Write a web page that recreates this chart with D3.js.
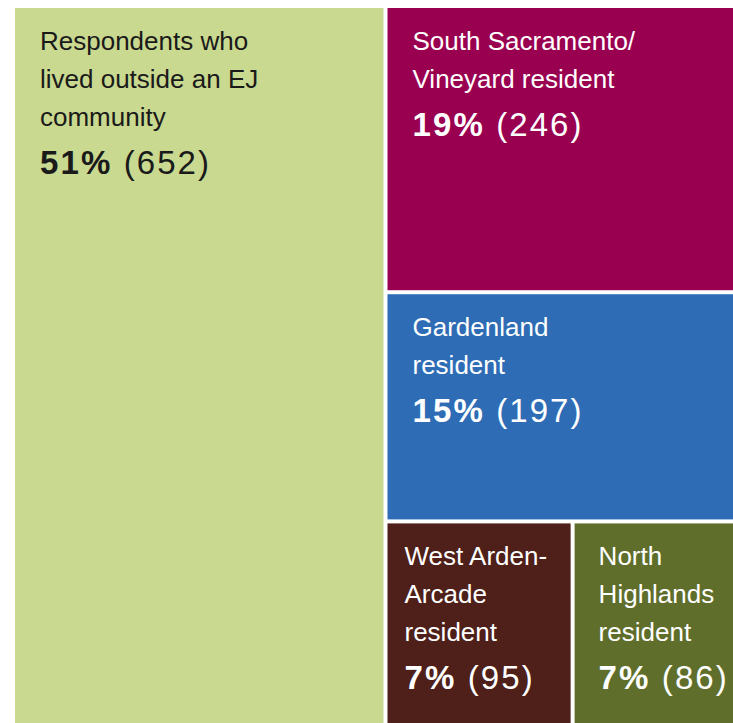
<!DOCTYPE html>
<html><head><meta charset="utf-8">
<script src="https://cdn.jsdelivr.net/npm/d3@7"></script>
<style>html,body{margin:0;padding:0;background:#fff;overflow:hidden}</style>
</head><body>
<svg id="chart" width="733" height="723"></svg>
<script>
// Data
const groups = ["outside", "ej", "ej", "bottom", "bottom"];
const categories = ["Respondents who lived outside an EJ community", "South Sacramento/ Vineyard resident", "Gardenland resident", "West Arden-Arcade resident", "North Highlands resident"];
const labelLines = [
  ["Respondents who", "lived outside an EJ", "community"],
  ["South Sacramento/", "Vineyard resident"],
  ["Gardenland", "resident"],
  ["West Arden-", "Arcade", "resident"],
  ["North", "Highlands", "resident"]
];
const counts = [652, 246, 197, 95, 86];
const percents = ["51%", "19%", "15%", "7%", "7%"];

// Styles
const colors = ["#c9d98f", "#990050", "#2e6db5", "#4e2019", "#606e2b"];
const textColors = ["#1a1a1a", "#fff", "#fff", "#fff", "#fff"];
const padLeft = [25, 25, 25, 17, 24];

const svg = d3.select("#chart");
const font = "'Liberation Sans Narrow', 'Liberation Sans', 'Arial Narrow', sans-serif";

// Build hierarchy: root -> [outside, ej -> [south, garden, bottom -> [west, north]]]
const leaves = categories.map((c, i) => ({name: c, i, value: counts[i], group: groups[i]}));
const tree = {name: "root", children: [
  leaves[0],
  {name: "ej", children: [leaves[1], leaves[2], {name: "bottom", children: [leaves[3], leaves[4]]}]}
]};

const root = d3.hierarchy(tree).sum(d => d.value || 0);
d3.treemap()
  .tile(d3.treemapSliceDice)
  .size([725, 722])
  .paddingInner(4)
  .round(false)(root);

const g = svg.append("g").attr("transform", "translate(15,8)");
const nodes = g.selectAll("g.leaf").data(root.leaves()).join("g")
  .attr("class", "leaf")
  .attr("transform", d => `translate(${d.x0},${d.y0})`);

nodes.append("rect")
  .attr("width", d => d.x1 - d.x0)
  .attr("height", d => d.y1 - d.y0)
  .attr("fill", d => colors[d.data.i]);

nodes.each(function(d) {
  const i = d.data.i;
  const sel = d3.select(this);
  const lines = labelLines[i];
  const t = sel.append("text")
    .attr("fill", textColors[i])
    .attr("font-family", font);
  lines.forEach((ln, k) => {
    t.append("tspan").attr("x", padLeft[i]).attr("y", 42 + k * 38)
      .attr("font-size", 26).text(ln);
  });
  const by = 42 + (lines.length - 1) * 38 + 48;
  const last = t.append("tspan").attr("x", padLeft[i]).attr("y", by)
    .attr("font-size", 33).attr("letter-spacing", 2.1);
  last.append("tspan").attr("font-weight", "bold").text(percents[i]);
  last.append("tspan").text(" (" + counts[i] + ")");
});
</script>
</body></html>
